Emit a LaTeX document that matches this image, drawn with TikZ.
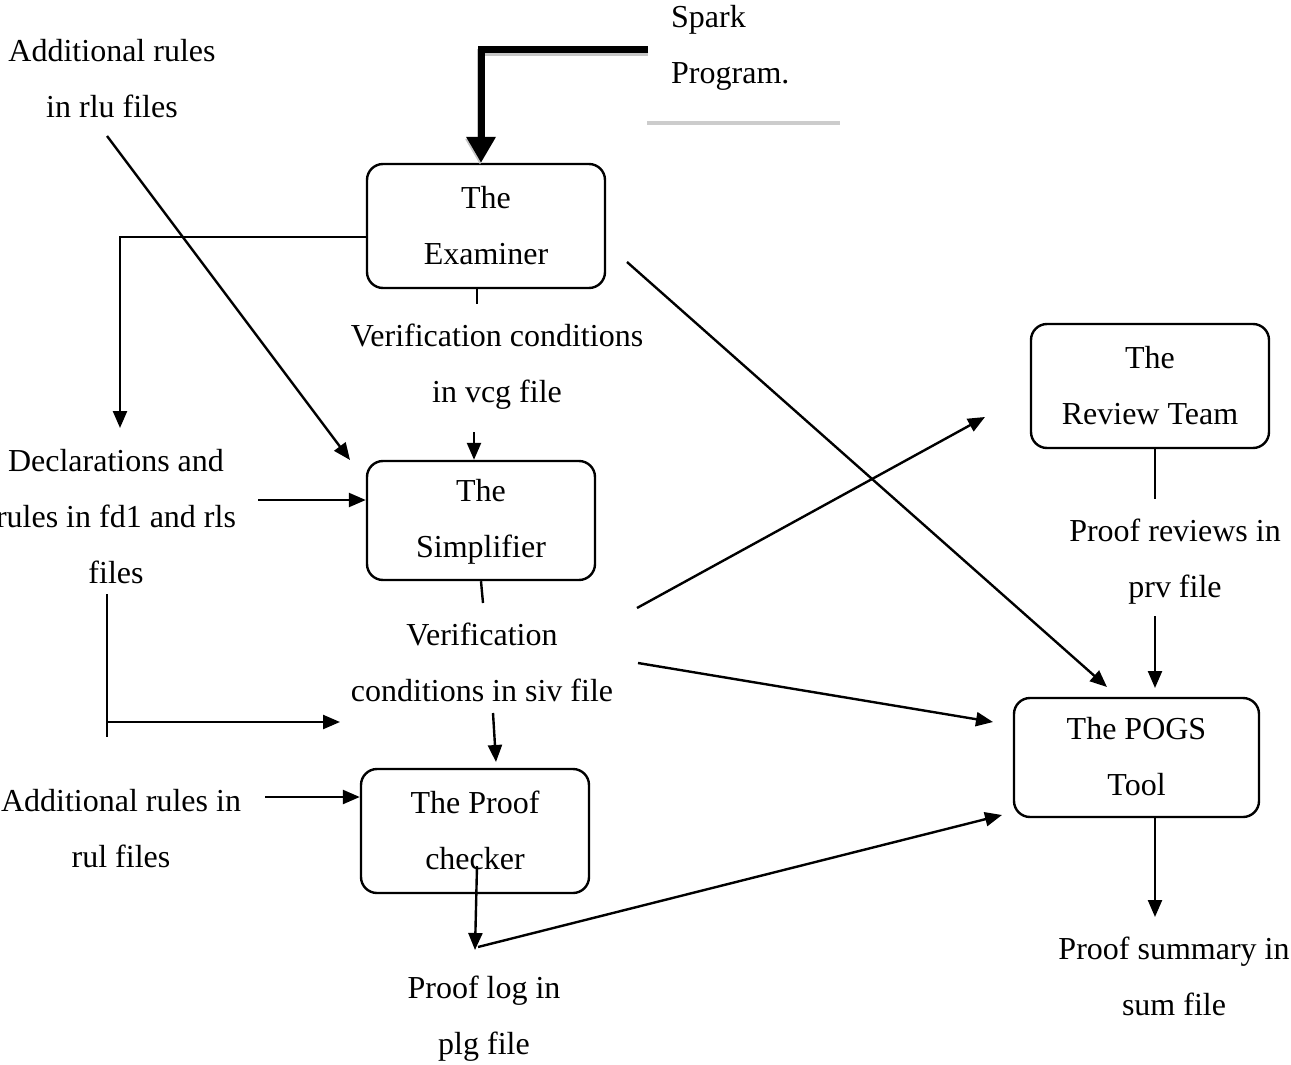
\documentclass[tikz,border=0pt]{standalone}
\usepackage{fontspec}
\setmainfont{Liberation Serif}
\usetikzlibrary{arrows.meta}
\newcommand\fs{\fontsize{32}{56}\selectfont}
\newcommand\mytop{\rule{0pt}{24pt}}
\newcommand\mybot{\rule[-4pt]{0pt}{4pt}}
\begin{document}
\begin{tikzpicture}[x=1pt,y=-1pt,line width=2.4pt,
  arr/.style={-{Triangle[length=17pt,width=14pt]}},
  lbl/.style={font=\fs,align=center,inner sep=0pt,anchor=north},
  box/.style={draw,rounded corners=16pt,font=\fs,align=center,inner sep=0pt,line width=2.4pt}]
\useasboundingbox (0,0) rectangle (1291,1065);

% boxes
\node[box,minimum width=238pt,minimum height=124pt] (exam) at (486,226) {\mytop The\\Examiner\mybot};
\node[box,minimum width=228pt,minimum height=119pt] (simp) at (481,520.5) {\mytop The\\Simplifier\mybot};
\node[box,minimum width=228pt,minimum height=124pt] (chk) at (475,831) {\mytop The Proof\\checker\mybot};
\node[box,minimum width=238pt,minimum height=124pt] (rev) at (1150,386) {\mytop The\\Review Team\mybot};
\node[box,minimum width=245pt,minimum height=119pt] (pogs) at (1136.5,757.5) {\mytop The POGS\\Tool\mybot};

% labels
\node[lbl,anchor=north west,align=left] (spark) at (670,2) {\mytop Spark\\Program.};
\node[lbl] (rlu) at (112,36) {\mytop Additional rules\\in rlu files};
\node[lbl] (vcg) at (497,321) {\mytop Verification conditions\\in vcg file};
\node[lbl] (decl) at (116,446) {\mytop Declarations and\\rules in fd1 and rls\\files};
\node[lbl] (siv) at (482,620) {\mytop Verification\\conditions in siv file};
\node[lbl] (rul) at (121,786) {\mytop Additional rules in\\rul files};
\node[lbl] (plg) at (484,973) {\mytop Proof log in\\plg file};
\node[lbl] (prv) at (1175,516) {\mytop Proof reviews in\\prv file};
\node[lbl] (sum) at (1174,934) {\mytop Proof summary in\\sum file};

% free ends
\coordinate (sparkin) at (648,50);
\coordinate (rluout) at (107,136);
\coordinate (declout) at (258,500);
\coordinate (vcgout) at (474,432);
\coordinate (simpout) at (483,603);
\coordinate (filestop) at (107,594);
\coordinate (filesbot) at (107,737);
\coordinate (filesarr) at (107,722);
\coordinate (sivtip) at (340,722);
\coordinate (sivout) at (493,713);
\coordinate (chktip) at (496,762);
\coordinate (rulout) at (265,797);
\coordinate (chkin) at (477,866);
\coordinate (plgtip) at (475,950);
\coordinate (plgout) at (478,947);
\coordinate (pogsin1) at (1002,815);
\coordinate (examout) at (627,262);
\coordinate (pogsin2) at (1107,687);
\coordinate (sivout1) at (637,608);
\coordinate (revin) at (985,417);
\coordinate (sivout2) at (638,663);
\coordinate (pogsin3) at (993,722);
\coordinate (prvtop) at (1155,499);
\coordinate (prvout) at (1155,616);
\coordinate (pogsin4) at (1155,688);
\coordinate (sumtip) at (1155,917);
\coordinate (decltip) at (120,428);
\coordinate (simptip) at (350,460);

% gray rule under Spark Program
\draw[line width=4pt,gray!40] (647,123) -- (840,123);

% thick input arrow with shadow
\draw[line width=7pt,gray!45,-{Triangle[length=26pt,width=28pt]}] ([yshift=-3pt]sparkin) -| ([xshift=-6pt,yshift=-2pt]exam.north);
\draw[line width=7pt,-{Triangle[length=26pt,width=28pt]}] (sparkin) -| ([xshift=-5pt]exam.north);

% connectors
\draw[arr] ([yshift=-11pt]exam.west) -| (decltip);
\draw[arr] (rluout) -- (simptip);
\draw[arr] (declout) -- (declout -| simp.west);
\draw ([xshift=-9pt]exam.south) -- ++(0,15);
\draw[arr] (vcgout) -- (vcgout |- simp.north);
\draw (simp.south) -- (simpout);
\draw (filestop) -- (filesbot);
\draw[arr] (filesarr) -- (sivtip);
\draw[arr] (sivout) -- (chktip);
\draw[arr] (rulout) -- (rulout -| chk.west);
\draw[arr] (chkin) -- (plgtip);
\draw[arr] (plgout) -- (pogsin1);
\draw[arr] (examout) -- (pogsin2);
\draw[arr] (sivout1) -- (revin);
\draw[arr] (sivout2) -- (pogsin3);
\draw ([xshift=5pt]rev.south) -- (prvtop);
\draw[arr] (prvout) -- (pogsin4);
\draw[arr] ([xshift=18.5pt]pogs.south) -- (sumtip);
\end{tikzpicture}
\end{document}
